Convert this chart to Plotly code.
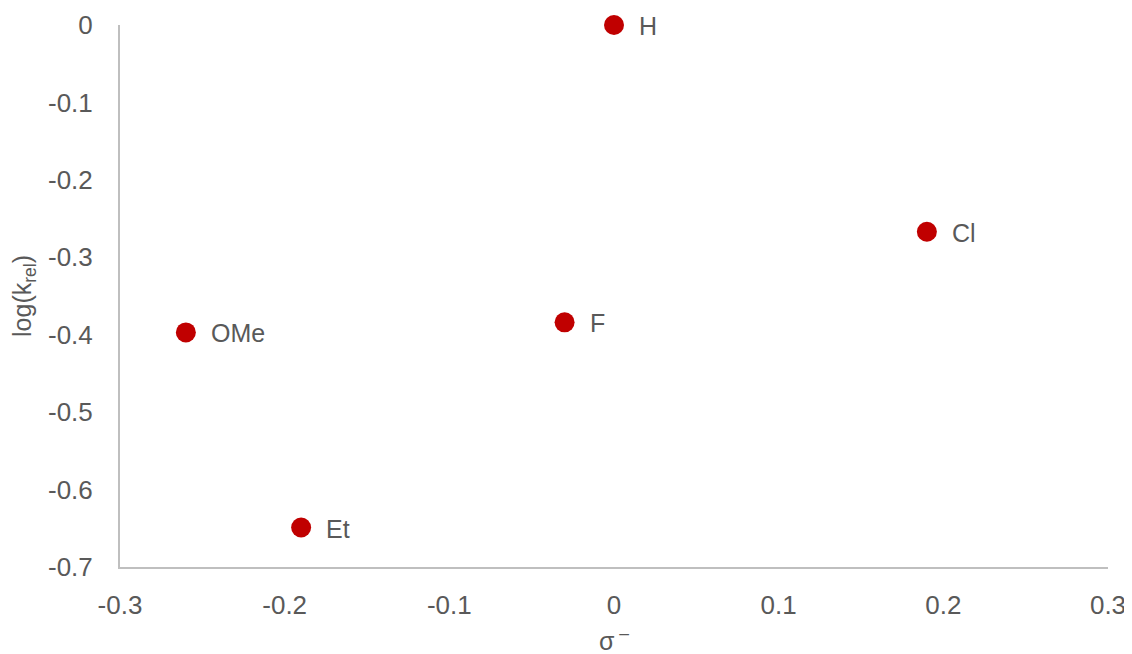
import plotly.graph_objects as go

labels = ["H", "Cl", "F", "OMe", "Et"]
sigma = [0.0, 0.19, -0.03, -0.26, -0.19]
logk = [0.0, -0.267, -0.384, -0.397, -0.649]

x_ticks = [-0.3, -0.2, -0.1, 0, 0.1, 0.2, 0.3]
x_tick_text = ["-0.3", "-0.2", "-0.1", "0", "0.1", "0.2", "0.3"]
y_ticks = [0, -0.1, -0.2, -0.3, -0.4, -0.5, -0.6, -0.7]
y_tick_text = ["0", "-0.1", "-0.2", "-0.3", "-0.4", "-0.5", "-0.6", "-0.7"]
x_title = "σ<sup> –</sup>"
y_title = "log(k<sub>rel</sub>)"

font_family = "Liberation Sans, Arial, sans-serif"
text_color = "#595959"
axis_color = "#BFBFBF"
fs = 26

fig = go.Figure()
fig.add_trace(go.Scatter(
    x=sigma, y=logk, mode="markers",
    marker=dict(size=20, color="#C00000"),
    cliponaxis=False,
    hoverinfo="skip", showlegend=False,
))

for lab, xv, yv in zip(labels, sigma, logk):
    fig.add_annotation(x=xv, y=yv, text=lab, showarrow=False,
                       xanchor="left", yanchor="middle", xshift=23, yshift=-1,
                       font=dict(family=font_family, size=fs - 1, color=text_color))

fig.add_annotation(xref="paper", yref="paper", x=0.5, y=0, text=x_title,
                   showarrow=False, xanchor="center", yanchor="middle", yshift=-72,
                   font=dict(family=font_family, size=fs - 1, color=text_color))

fig.update_layout(
    width=1122, height=646,
    margin=dict(l=112, r=22, t=17, b=87, autoexpand=False),
    paper_bgcolor="white", plot_bgcolor="white",
    font=dict(family=font_family, size=fs, color=text_color),
    xaxis=dict(
        range=[-0.3, 0.3], tickvals=x_ticks, ticktext=x_tick_text,
        showgrid=False, zeroline=False, showline=True, linecolor=axis_color, linewidth=2,
        ticks="outside", ticklen=14, tickcolor="rgba(0,0,0,0)",
        tickfont=dict(size=fs, color=text_color), automargin=False,
        ticklabeloverflow="allow",
    ),
    yaxis=dict(
        range=[-0.7, 0], tickvals=y_ticks, ticktext=y_tick_text,
        showgrid=False, zeroline=False, showline=True, linecolor=axis_color, linewidth=2,
        ticks="outside", ticklen=20, tickcolor="rgba(0,0,0,0)",
        tickfont=dict(size=fs, color=text_color), automargin=False,
        title=dict(text=y_title, font=dict(size=fs - 1, color=text_color)),
    ),
)

fig.write_html("out.html")
